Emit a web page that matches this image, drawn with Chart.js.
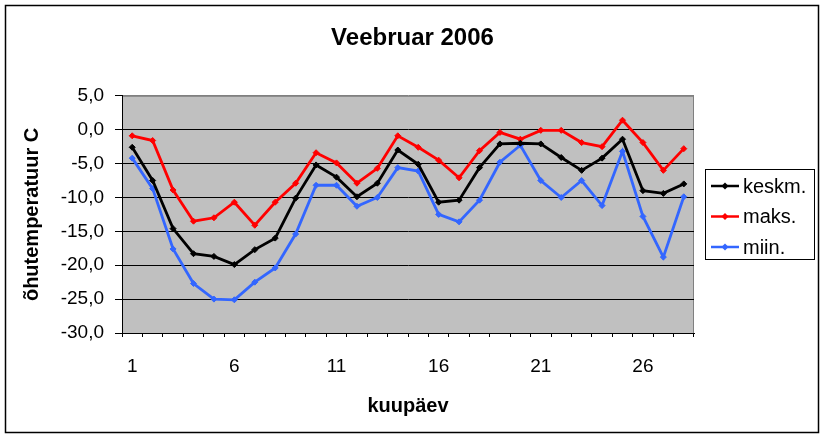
<!DOCTYPE html>
<html>
<head>
<meta charset="utf-8">
<script src="https://cdn.jsdelivr.net/npm/chart.js@4"></script>
<style>
  body { margin: 0; background: #fff; }
</style>
</head>
<body>
<canvas id="graafik" width="825" height="438"></canvas>
<script>
// veebruar 2006, paevad 1..28
const paevad = [];
for (let i = 1; i <= 28; i++) paevad.push(String(i));

const keskm = [-2.6, -7.5, -14.6, -18.3, -18.7, -19.9, -17.7, -16.0, -10.1, -5.2, -7.0, -9.9, -7.9, -3.0,
               -5.1, -10.7, -10.4, -5.6, -2.1, -2.0, -2.1, -4.1, -6.0, -4.2, -1.4, -9.0, -9.4, -8.0];
const maks = [-0.9, -1.6, -8.9, -13.5, -13.0, -10.7, -14.1, -10.7, -7.9, -3.4, -4.9, -7.9, -5.7, -0.9,
              -2.6, -4.5, -7.1, -3.1, -0.4, -1.4, -0.1, -0.1, -1.9, -2.5, 1.4, -1.9, -6.0, -2.8];
const miin = [-4.2, -8.7, -17.6, -22.7, -25.0, -25.1, -22.5, -20.4, -15.4, -8.2, -8.2, -11.3, -10.0, -5.6,
              -6.1, -12.5, -13.6, -10.4, -4.8, -2.3, -7.5, -10.0, -7.5, -11.2, -3.2, -12.8, -18.8, -9.9];

const yMin = -30, yMax = 5, ySamm = 5;

const font = "Arial, 'Liberation Sans', sans-serif";

function seeria(nimi, andmed, varv) {
  return {
    label: nimi,
    data: andmed,
    borderColor: varv,
    backgroundColor: varv,
    borderWidth: 2.8,
    pointStyle: 'rectRot',
    pointRadius: 3,
    pointBorderWidth: 1,
    tension: 0
  };
}

// hall taust, raam ja legend
const taust = {
  id: 'taust',
  beforeDraw(chart) {
    const ctx = chart.ctx, a = chart.chartArea;
    ctx.save();
    ctx.fillStyle = '#fff';
    ctx.fillRect(0, 0, chart.width, chart.height);
    ctx.fillStyle = '#c0c0c0';
    ctx.fillRect(a.left, a.top, a.right - a.left, a.bottom - a.top);
    ctx.strokeStyle = '#808080';
    ctx.lineWidth = 1;
    ctx.strokeRect(a.left + 0.5, a.top + 0.5, a.right - a.left - 1, a.bottom - a.top);
    ctx.restore();
  },
  afterDraw(chart) {
    const ctx = chart.ctx;
    ctx.save();
    ctx.strokeStyle = '#000';
    ctx.lineWidth = 1.5;
    ctx.strokeRect(5.5, 5.5, 813, 427);
    // legend
    ctx.fillStyle = '#fff';
    ctx.fillRect(705, 169, 109, 90);
    ctx.lineWidth = 1;
    ctx.strokeRect(705.5, 169.5, 109, 90);
    ctx.font = '20px ' + font;
    ctx.textBaseline = 'middle';
    chart.data.datasets.forEach((ds, i) => {
      const y = 186 + i * 30.5;
      ctx.strokeStyle = ds.borderColor;
      ctx.lineWidth = 2.5;
      ctx.beginPath();
      ctx.moveTo(711, y);
      ctx.lineTo(739, y);
      ctx.stroke();
      ctx.fillStyle = ds.borderColor;
      ctx.beginPath();
      ctx.moveTo(725, y - 3.5);
      ctx.lineTo(728.5, y);
      ctx.lineTo(725, y + 3.5);
      ctx.lineTo(721.5, y);
      ctx.closePath();
      ctx.fill();
      ctx.fillStyle = '#000';
      ctx.fillText(ds.label, 743, y + 1);
    });
    ctx.restore();
  }
};

new Chart(document.getElementById('graafik'), {
  type: 'line',
  data: {
    labels: paevad,
    datasets: [
      seeria('keskm.', keskm, '#000000'),
      seeria('maks.', maks, '#ff0000'),
      seeria('miin.', miin, '#3366ff')
    ]
  },
  options: {
    responsive: false,
    animation: false,
    devicePixelRatio: 1,
    layout: { padding: 0 },
    plugins: {
      legend: { display: false },
      tooltip: { enabled: false },
      title: {
        display: true,
        text: 'Veebruar 2006',
        color: '#000',
        font: { family: font, size: 24, weight: 'bold', lineHeight: 1.2 },
        padding: { top: 24, bottom: 43 }
      }
    },
    scales: {
      x: {
        offset: true,
        grid: { offset: true, drawOnChartArea: false, drawTicks: true, tickLength: 4, color: '#000' },
        border: { color: '#000', width: 1 },
        ticks: {
          autoSkip: false,
          maxRotation: 0,
          color: '#000',
          padding: 18,
          font: { family: font, size: 19 },
          callback: (v, i) => (i % 5 === 0 ? paevad[i] : '')
        },
        title: {
          display: true,
          text: 'kuupäev',
          color: '#000',
          font: { family: font, size: 20, weight: 'bold', lineHeight: 1.2 },
          padding: { top: 0, bottom: 20 }
        },
        afterFit: s => { s.height = 105; }
      },
      y: {
        min: yMin,
        max: yMax,
        grid: {
          color: c => (c.tick && c.tick.value === yMax ? '#808080' : '#000'),
          tickColor: '#000',
          tickLength: 7,
          lineWidth: 1
        },
        border: { color: '#000', width: 1 },
        ticks: {
          stepSize: ySamm,
          color: '#000',
          padding: 11,
          font: { family: font, size: 19 },
          callback: v => v.toFixed(1).replace('.', ',')
        },
        title: {
          display: true,
          text: 'õhutemperatuur C',
          color: '#000',
          font: { family: font, size: 20, weight: 'bold', lineHeight: 1.2 },
          padding: { top: 20, bottom: 0 }
        },
        afterFit: s => { s.width = 122; }
      },
      yR: {
        position: 'right',
        display: true,
        grid: { display: false, drawTicks: false },
        border: { display: false },
        ticks: { display: false },
        afterFit: s => { s.width = 131; }
      }
    }
  },
  plugins: [taust]
});
</script>
</body>
</html>
